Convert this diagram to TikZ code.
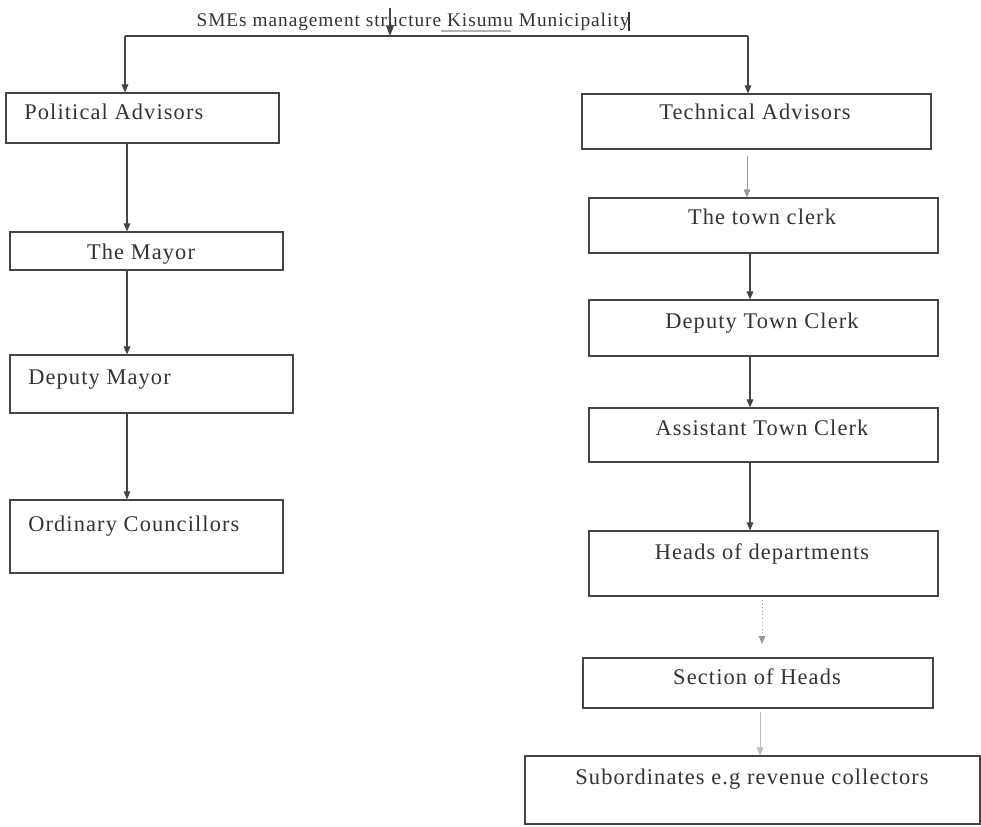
\documentclass[tikz,border=0pt]{standalone}
\usepackage{fontspec}
\setmainfont[LetterSpace=5]{Liberation Serif}
\usetikzlibrary{arrows.meta,fit}
\definecolor{ink}{HTML}{333333}
\definecolor{rule}{HTML}{444444}
\tikzset{
  box/.style={draw=rule, line width=0.9pt, inner sep=0pt},
  lbl/.style={text=ink, inner sep=0pt, font=\fontsize{16.8}{18}\selectfont},
  link/.style={draw=rule, line width=0.8pt, -{Triangle[length=6pt,width=5pt]}},
  faint/.style={draw=rule!55, line width=0.7pt, -{Triangle[length=6pt,width=5pt]}},
}
% a framed box given by its two corners (in px)
\newcommand{\orgbox}[3]{%
  \coordinate (#1-a) at #2; \coordinate (#1-b) at #3;
  \node[box, fit=(#1-a)(#1-b)] (#1) {};}
\begin{document}
\begin{tikzpicture}[x=0.75pt,y=-0.75pt]
\useasboundingbox (0,0) rectangle (981,826);

% title
\node[text=ink, inner sep=0pt, anchor=base, font=\fontsize{14.5}{16}\selectfont] (title) at (413,26)
  {SMEs management structure Kisumu Municipality};
\draw[ink, line width=1pt] (629,12) -- (629,31);
\draw[gray!60, line width=0.9pt] (441,31) -- (511,31);

% left column
\orgbox{pa}{(6,93)}{(279,143)}
\orgbox{my}{(10,232)}{(283,270)}
\orgbox{dm}{(10,355)}{(293,413)}
\orgbox{oc}{(10,500)}{(283,573)}

\node[lbl, anchor=base west] (pat) at (24,119) {Political Advisors};
\node[lbl, anchor=base] (myt) at (141,259) {The Mayor};
\node[lbl, anchor=base west] (dmt) at (28,384) {Deputy Mayor};
\node[lbl, anchor=base west] (oct) at (28,531) {Ordinary Councillors};

% right column
\orgbox{ta}{(582,94)}{(931,149)}
\orgbox{tc}{(589,198)}{(938,253)}
\orgbox{dtc}{(589,300)}{(938,356)}
\orgbox{atc}{(589,408)}{(938,462)}
\orgbox{hd}{(589,531)}{(938,596)}
\orgbox{sh}{(583,658)}{(933,708)}
\orgbox{sub}{(525,756)}{(980,824)}

\node[lbl, anchor=base] (tat) at (755,119) {Technical Advisors};
\node[lbl, anchor=base] (tct) at (762,224) {The town clerk};
\node[lbl, anchor=base] (dtct) at (762,328) {Deputy Town Clerk};
\node[lbl, anchor=base] (atct) at (762,435) {Assistant Town Clerk};
\node[lbl, anchor=base] (hdt) at (762,559) {Heads of departments};
\node[lbl, anchor=base] (sht) at (757,684) {Section of Heads};
\node[lbl, anchor=base] (subt) at (752,784) {Subordinates e.g revenue collectors};

% connector columns
\coordinate (lc) at (127,0);
\coordinate (rc) at (750,0);
\coordinate (top) at (390,8);
\coordinate (bus) at (390,36);
\coordinate (tl) at (125,36);
\coordinate (tr) at (748,36);

\draw[draw=rule, line width=0.8pt, -{Triangle[length=8pt,width=6pt]}] (top) -- (bus);
\draw[rule, line width=0.8pt] (tl) -- (tr);
\draw[link] (tl) -- (tl |- pa.north);
\draw[link] (tr) -- (tr |- ta.north);

\draw[link] (pa.south -| lc) -- (my.north -| lc);
\draw[link] (my.south -| lc) -- (dm.north -| lc);
\draw[link] (dm.south -| lc) -- (oc.north -| lc);

\coordinate (tas) at (747,156);
\draw[faint] (tas) -- (tas |- tc.north);
\draw[link] (tc.south -| rc) -- (dtc.north -| rc);
\draw[link] (dtc.south -| rc) -- (atc.north -| rc);
\draw[link] (atc.south -| rc) -- (hd.north -| rc);
\coordinate (hds) at (762,600);
\coordinate (hde) at (762,644);
\draw[faint, dotted] (hds) -- (hde);
\coordinate (shs) at (760,712);
\draw[faint, draw=rule!35] (shs) -- (shs |- sub.north);
\end{tikzpicture}
\end{document}
